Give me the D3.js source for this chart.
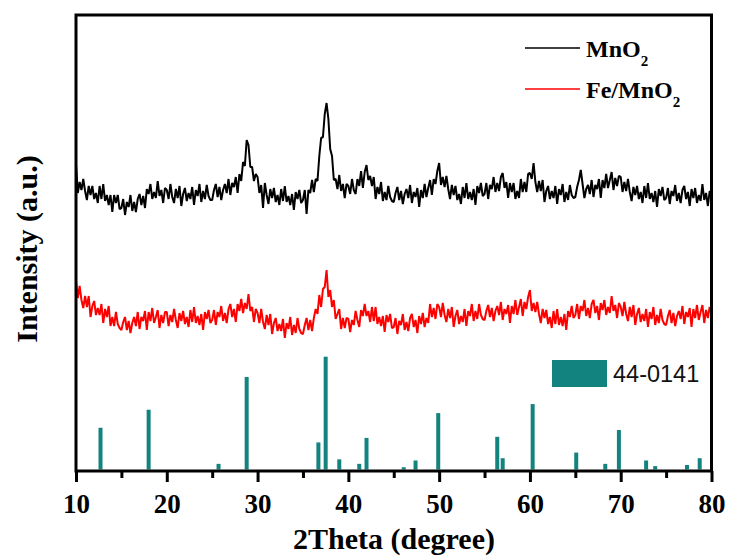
<!DOCTYPE html>
<html><head><meta charset="utf-8">
<script src="https://cdn.jsdelivr.net/npm/d3@7"></script>
<style>body{margin:0;background:#fff}</style>
</head><body>
<svg id="chart" width="732" height="559"></svg>
<script>
// 2Theta sampling of the measured patterns
const thetaStart = 10, thetaStep = 0.2;
// MnO2 pattern (a.u., offset)
const mno2 = [
305,276,287,279,290,278,269,283,274,283,270,276,266,283,270,285,268,274,264,274,257,274,266,274,260,
261,270,254,267,262,274,258,267,257,270,275,264,273,261,280,275,285,270,277,271,288,273,279,266,281,
279,270,285,272,266,280,271,283,263,275,281,268,276,270,282,264,279,273,285,267,278,270,284,273,269,
269,279,285,272,282,269,279,285,276,290,274,286,282,292,276,295,288,307,303,329,324,302,302,288,295,
292,276,284,261,286,274,265,280,271,281,267,274,264,280,268,283,267,273,264,275,259,277,270,279,266,
269,279,255,279,276,289,277,290,288,313,331,332,355,366,350,320,313,289,290,280,294,278,285,271,285,
283,275,290,279,275,290,283,298,281,297,304,289,293,283,292,270,282,275,287,268,277,269,283,272,268,
267,276,282,269,278,265,275,280,271,284,266,277,272,281,262,279,271,285,272,281,289,274,290,285,298,
306,284,292,282,293,280,270,284,274,283,269,275,265,282,271,286,270,277,269,280,264,283,276,286,273,
275,286,270,284,280,292,277,286,278,292,296,281,287,271,286,277,286,270,278,271,290,277,287,277,295,
296,290,306,287,277,288,278,289,267,278,283,270,278,271,283,265,280,274,285,267,277,269,284,274,271,
272,282,289,299,285,271,280,284,275,289,272,284,280,290,271,289,281,295,281,289,297,279,291,283,293,
292,277,287,278,290,277,268,282,274,283,270,277,266,283,271,286,270,276,267,278,262,280,273,282,269,
271,281,265,278,273,284,268,276,266,279,283,270,277,263,280,271,281,266,274,268,285,269,276,263,278,
274];
// Fe/MnO2 pattern (a.u., offset)
const femno2 = [
188,171,183,169,161,173,162,173,152,163,168,154,161,154,165,146,160,152,163,143,152,143,157,145,141,
139,147,152,139,148,136,146,152,143,157,140,152,148,158,139,157,148,161,146,152,159,141,154,146,157,
157,143,154,147,160,149,141,156,148,158,145,152,142,159,147,162,146,153,144,155,139,157,150,159,146,
149,159,144,157,152,163,148,156,146,160,165,152,160,147,165,158,170,156,166,160,175,158,162,147,160,
156,146,160,147,140,154,144,155,135,146,151,138,145,138,150,131,146,140,152,134,144,136,151,140,136,
135,144,151,139,149,138,151,160,155,174,162,180,182,199,172,179,162,169,150,155,160,140,151,141,151,
150,137,149,144,158,149,142,159,153,165,153,158,147,162,148,162,145,152,143,153,137,154,147,155,141,
142,151,135,148,144,155,139,147,138,151,155,142,149,136,153,145,156,142,151,146,165,152,161,150,165,
162,152,166,154,147,160,151,162,142,153,159,145,153,147,160,143,158,153,165,148,158,150,165,154,150,
149,158,164,152,161,148,158,163,154,167,149,160,155,164,146,163,155,169,154,162,170,153,167,160,172,
179,158,166,157,167,155,146,160,151,159,145,152,141,158,145,160,144,152,143,155,139,158,152,163,151,
154,165,150,163,158,169,153,161,151,165,169,156,163,149,166,159,169,154,162,156,173,158,164,151,166,
162,153,167,155,148,162,152,164,144,155,161,147,155,148,160,142,157,150,162,144,154,146,160,149,145,
144,153,159,146,156,143,153,158,150,163,145,157,152,161,142,160,151,164,149,157,164,146,159,151,162,
155];
// Reference card 44-0141
const refPos = [12.7,18.0,25.7,28.8,36.7,37.5,39.0,41.2,42.0,46.1,47.4,49.9,56.4,57.0,60.3,65.1,68.3,69.8,72.8,73.8,77.3,78.7];
const refInt = [37,53,5,82,24,100,9,5,28,2,8,50,29,10,58,15,5,35,8,3,4,10];
const xTicks = [10,20,30,40,50,60,70,80];
const xMinorTicks = [15,25,35,45,55,65,75];
const seriesNames = ["MnO", "Fe/MnO"];
const refLabel = "44-0141";

const L = 76, R = 711.5, T = 15, B = 471;
const svg = d3.select("#chart");
const x = d3.scaleLinear().domain([10, 80]).range([L, R]);
const y = d3.scaleLinear().domain([0, 455]).range([469, 14]);
const yBar = d3.scaleLinear().domain([0, 100]).range([469.5, 356.7]);
const teal = "#13837f";

svg.append("defs").append("clipPath").attr("id", "clip")
  .append("rect").attr("x", L).attr("y", T).attr("width", R - L).attr("height", B - T);

const plot = svg.append("g").attr("clip-path", "url(#clip)");
const line = d3.line().x((d, i) => x(thetaStart + i * thetaStep)).y(d => y(d));

plot.append("path").datum(mno2).attr("d", line)
  .attr("fill", "none").attr("stroke", "#000").attr("stroke-width", 2).attr("stroke-linejoin", "bevel");
plot.append("path").datum(femno2).attr("d", line)
  .attr("fill", "none").attr("stroke", "#ff0000").attr("stroke-width", 2).attr("stroke-linejoin", "bevel");

plot.selectAll("rect.bar").data(refPos).enter().append("rect")
  .attr("class", "bar")
  .attr("x", d => x(d) - 2)
  .attr("width", 4)
  .attr("y", (d, i) => yBar(refInt[i]))
  .attr("height", (d, i) => yBar(0) - yBar(refInt[i]))
  .attr("fill", teal);

// axes
const ax = svg.append("g").attr("transform", `translate(0,${B})`)
  .call(d3.axisBottom(x).tickValues(xTicks).tickSize(11).tickPadding(12).tickFormat(d3.format("d")));
ax.select(".domain").remove();
ax.selectAll(".tick line").attr("stroke", "#000").attr("stroke-width", 3);
ax.selectAll(".tick text").attr("font-family", "'Liberation Serif', 'Times New Roman', serif")
  .attr("font-weight", "bold").attr("font-size", 27).attr("fill", "#000");

const axm = svg.append("g").attr("transform", `translate(0,${B})`)
  .call(d3.axisBottom(x).tickValues(xMinorTicks).tickSize(7).tickFormat(""));
axm.select(".domain").remove();
axm.selectAll(".tick line").attr("stroke", "#000").attr("stroke-width", 3);

svg.append("rect").attr("x", L).attr("y", T).attr("width", R - L).attr("height", B - T)
  .attr("fill", "none").attr("stroke", "#000").attr("stroke-width", 3);

const serif = "'Liberation Serif', 'Times New Roman', serif";
svg.append("text").attr("x", 394).attr("y", 549).attr("text-anchor", "middle")
  .attr("font-family", serif).attr("font-weight", "bold").attr("font-size", 30)
  .text("2Theta (degree)");
svg.append("text").attr("transform", "translate(37,249) rotate(-90)").attr("text-anchor", "middle")
  .attr("font-family", serif).attr("font-weight", "bold").attr("font-size", 30)
  .text("Intensity (a.u.)");

// legend
const leg = [{c: "#000", y: 48, ty: 57}, {c: "#ff0000", y: 89, ty: 98}];
leg.forEach((l, i) => {
  svg.append("line").attr("x1", 525).attr("x2", 580).attr("y1", l.y).attr("y2", l.y)
    .attr("stroke", l.c).attr("stroke-width", 1.6);
  const t = svg.append("text").attr("x", 586).attr("y", l.ty)
    .attr("font-family", serif).attr("font-weight", "bold").attr("font-size", 24);
  t.append("tspan").text(seriesNames[i]);
  t.append("tspan").attr("font-size", 15).attr("dy", 9).text("2");
});

svg.append("rect").attr("x", 552).attr("y", 360).attr("width", 55).attr("height", 27).attr("fill", teal);
svg.append("text").attr("x", 613).attr("y", 382)
  .attr("font-family", "'Liberation Sans', Arial, sans-serif").attr("font-size", 23.5)
  .attr("fill", "#111").text(refLabel);
</script>
</body></html>
